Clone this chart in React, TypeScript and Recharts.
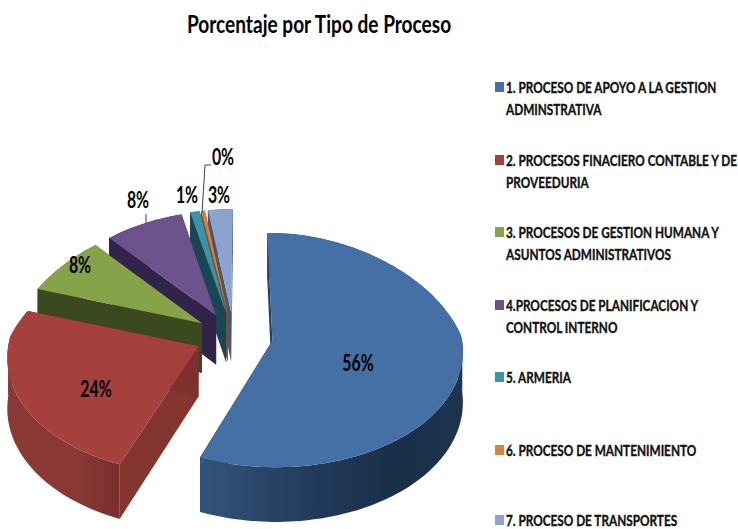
import { Legend, Pie, PieChart } from "recharts";

const categories = [
  ["1. PROCESO DE APOYO A LA GESTION", "ADMINSTRATIVA"],
  ["2. PROCESOS FINACIERO CONTABLE Y DE", "PROVEEDURIA"],
  ["3. PROCESOS DE GESTION HUMANA Y", "ASUNTOS ADMINISTRATIVOS"],
  ["4.PROCESOS DE PLANIFICACION Y", "CONTROL INTERNO"],
  ["5. ARMERIA"],
  ["6. PROCESO DE MANTENIMIENTO"],
  ["7. PROCESO DE TRANSPORTES"],
];
const values = [56, 24, 8, 8, 1, 0.4, 2.6];
const labels = ["56%", "24%", "8%", "8%", "1%", "0%", "3%"];

const topColors = ["#4470A6", "#A5403D", "#86A34A", "#6D538C", "#3A93AC", "#D9803A", "#8CA3CD"];
const sideColors = ["#243F60", "#85352F", "#3A4A1E", "#31234A", "#1A4654", "#8A5020", "#4A5670"];

// gradient stops for the outer wall, only the two big slices really show it
const wallStops: Record<number, [number, string][]> = {
  0: [[0, "#325479"], [0.4, "#223C5C"], [0.75, "#1A2E48"], [1, "#1D344F"]],
  1: [[0, "#8C3936"], [0.6, "#8A3835"], [1, "#782F2D"]],
};

const labelSpots = [
  { x: 358, y: 371 },
  { x: 96, y: 397 },
  { x: 80, y: 273 },
  { x: 138, y: 208 },
  { x: 187, y: 203 },
  { x: 223, y: 165 },
  { x: 219, y: 203 },
];

// slices are painted from the back to the front
const pieData = categories
  .map((lines, i) => ({ name: lines[0], value: values[i], index: i }))
  .reverse();

const SQUASH = 0.612;
const PERSPECTIVE = 0.0815;
const VANISH_X = 12; // the far slices lean towards this point, right of the pie centre
const VANISH_K = 0.105;
const EXPLODE = 0.206;
const DEPTH = 50;
const RAD = Math.PI / 180;
const FONT = "Lato, sans-serif";

function Slice3D(props: any) {
  const { cx, cy, outerRadius: R, startAngle, endAngle, payload } = props;
  const index = payload?.index ?? props.index;
  const a = 90 - endAngle;
  const b = 90 - startAngle;
  const mid = (a + b) / 2;
  const ox = EXPLODE * Math.sin(mid * RAD);
  const oy = EXPLODE * Math.cos(mid * RAD);

  const project = (r: number, deg: number, down: number) => {
    const px = ox + r * Math.sin(deg * RAD);
    const py = oy + r * Math.cos(deg * RAD);
    const f = 1 / (1 + PERSPECTIVE * py);
    const lean = 1 / (1 + VANISH_K * Math.max(py, 0));
    return [
      cx + VANISH_X + (px * R * f - VANISH_X) * lean,
      cy - py * SQUASH * R * f + down * DEPTH * f,
    ];
  };
  const poly = (pts: number[][]) =>
    "M" + pts.map((p) => `${p[0].toFixed(1)},${p[1].toFixed(1)}`).join("L") + "Z";

  const arc: number[] = [];
  const steps = Math.max(4, Math.ceil((b - a) / 1.5));
  for (let i = 0; i <= steps; i++) arc.push(a + ((b - a) * i) / steps);

  const wall = (angles: number[]) =>
    angles.length < 2
      ? ""
      : poly([
          ...angles.map((d) => project(1, d, 0)),
          ...[...angles].reverse().map((d) => project(1, d, 1)),
        ]);
  const back = arc.filter((d) => Math.cos(d * RAD) > -0.02);
  const front = arc.filter((d) => Math.cos(d * RAD) <= 0.02);
  const face = (deg: number) =>
    poly([project(0, deg, 0), project(1, deg, 0), project(1, deg, 1), project(0, deg, 1)]);
  const top = poly([project(0, a, 0), ...arc.map((d) => project(1, d, 0))]);

  const stops = wallStops[index];
  const gradId = `wall-${index}`;
  return (
    <g>
      {stops && (
        <defs>
          <linearGradient id={gradId} x1="0" x2="1" y1="0" y2="0">
            {stops.map(([o, c]) => (
              <stop key={o} offset={o} stopColor={c} />
            ))}
          </linearGradient>
        </defs>
      )}
      <path d={wall(back)} fill={sideColors[index]} />
      <path d={face(a)} fill={sideColors[index]} />
      <path d={face(b)} fill={index === 1 ? "#7D312E" : sideColors[index]} />
      <path d={wall(front)} fill={stops ? `url(#${gradId})` : sideColors[index]} />
      <path d={top} fill={topColors[index]} />
    </g>
  );
}

function SliceLabel(props: any) {
  const index = props.payload?.index ?? props.index;
  const spot = labelSpots[index];
  return (
    <g>
      {index === 3 && <path d="M146,223V214" stroke="#404040" fill="none" />}
      {index === 5 && <path d="M202,213L205,165H211" stroke="#404040" fill="none" />}
      <text
        transform={`translate(${spot.x},${spot.y}) scale(0.72,1)`}
        textAnchor="middle"
        fontFamily={FONT}
        fontWeight={700}
        fontSize={22}
        fill="#000"
      >
        {labels[index]}
      </text>
    </g>
  );
}

function LegendBlock() {
  return (
    <div style={{ position: "relative", width: 738, height: 529, fontFamily: FONT }}>
      {categories.map((lines, i) => {
        const y = Math.min(87 + i * 72.5, 520);
        return (
          <div key={i}>
            <div
              style={{
                position: "absolute",
                left: 495,
                top: y - 5,
                width: 9,
                height: 10,
                background: topColors[i],
              }}
            />
            {lines.map((line, j) => (
              <div
                key={j}
                style={{
                  position: "absolute",
                  left: 506,
                  top: y - 7 + j * 22,
                  height: 14,
                  lineHeight: "14px",
                  fontSize: 15,
                  fontWeight: 700,
                  color: "#111",
                  WebkitTextStroke: "0.35px #111",
                  whiteSpace: "nowrap",
                  transform: "scaleX(0.785)",
                  transformOrigin: "left center",
                }}
              >
                {line}
              </div>
            ))}
          </div>
        );
      })}
    </div>
  );
}

export default function App() {
  return (
    <div style={{ position: "absolute", left: 0, top: 0, width: 738, height: 529, background: "#fff" }}>
      <PieChart width={738} height={529} margin={{ top: 0, right: 0, bottom: 0, left: 0 }}>
        <text
          transform="translate(319,33) scale(0.795,1)"
          textAnchor="middle"
          fontFamily={FONT}
          fontWeight={700}
          fontSize={24}
          fill="#000"
        >
          Porcentaje por Tipo de Proceso
        </text>
        <Pie
          data={pieData}
          dataKey="value"
          nameKey="name"
          cx={234}
          cy={336}
          outerRadius={189}
          startAngle={90}
          endAngle={450}
          stroke="none"
          shape={Slice3D}
          label={SliceLabel}
          labelLine={false}
          isAnimationActive={false}
        />
        <Legend
          content={LegendBlock}
          wrapperStyle={{ position: "absolute", left: 0, top: 0, width: 738, height: 529, pointerEvents: "none" }}
        />
      </PieChart>
    </div>
  );
}
